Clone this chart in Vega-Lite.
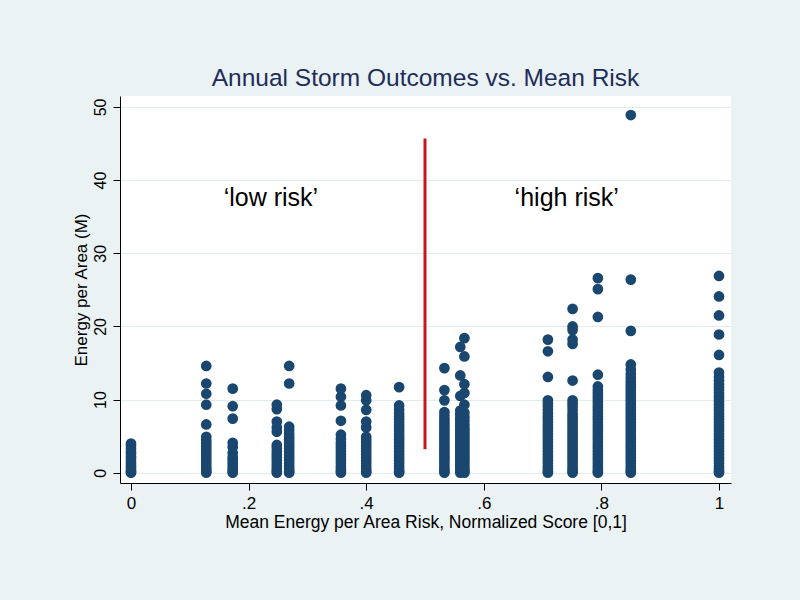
{
  "$schema": "https://vega.github.io/schema/vega-lite/v6.json",
  "width": 611,
  "height": 387,
  "autosize": "none",
  "padding": {"left": 120, "top": 96, "right": 69, "bottom": 117},
  "background": "#eaf2f3",
  "title": {"text": "Annual Storm Outcomes vs. Mean Risk", "fontSize": 24.5, "fontWeight": "normal", "color": "#1e2d5a", "anchor": "middle", "baseline": "alphabetic", "offset": -14, "font": "Liberation Sans"},
  "datasets": {
    "pts": [
      {"risk": 0, "energy": 0}, {"risk": 0, "energy": 0.1}, {"risk": 0, "energy": 0.3}, {"risk": 0, "energy": 0.6}, {"risk": 0, "energy": 0.9}, {"risk": 0, "energy": 1.2}, {"risk": 0, "energy": 1.5}, {"risk": 0, "energy": 1.9}, {"risk": 0, "energy": 2.2}, {"risk": 0, "energy": 2.6}, {"risk": 0, "energy": 2.9}, {"risk": 0, "energy": 3.3}, {"risk": 0, "energy": 3.7}, {"risk": 0, "energy": 4.0},
      {"risk": 0.128, "energy": 0}, {"risk": 0.128, "energy": 0.2}, {"risk": 0.128, "energy": 0.5}, {"risk": 0.128, "energy": 0.8}, {"risk": 0.128, "energy": 1.2}, {"risk": 0.128, "energy": 1.6}, {"risk": 0.128, "energy": 2.0}, {"risk": 0.128, "energy": 2.4}, {"risk": 0.128, "energy": 2.8}, {"risk": 0.128, "energy": 3.2}, {"risk": 0.128, "energy": 3.6}, {"risk": 0.128, "energy": 4.0}, {"risk": 0.128, "energy": 4.4}, {"risk": 0.128, "energy": 4.9}, {"risk": 0.128, "energy": 6.6}, {"risk": 0.128, "energy": 9.3}, {"risk": 0.128, "energy": 10.8}, {"risk": 0.128, "energy": 12.2}, {"risk": 0.128, "energy": 14.6},
      {"risk": 0.173, "energy": 0}, {"risk": 0.173, "energy": 0.2}, {"risk": 0.173, "energy": 0.5}, {"risk": 0.173, "energy": 0.9}, {"risk": 0.173, "energy": 1.3}, {"risk": 0.173, "energy": 1.7}, {"risk": 0.173, "energy": 2.1}, {"risk": 0.173, "energy": 2.7}, {"risk": 0.173, "energy": 3.5}, {"risk": 0.173, "energy": 4.1}, {"risk": 0.173, "energy": 7.4}, {"risk": 0.173, "energy": 9.1}, {"risk": 0.173, "energy": 11.5},
      {"risk": 0.248, "energy": 0}, {"risk": 0.248, "energy": 0.2}, {"risk": 0.248, "energy": 0.5}, {"risk": 0.248, "energy": 0.9}, {"risk": 0.248, "energy": 1.3}, {"risk": 0.248, "energy": 1.7}, {"risk": 0.248, "energy": 2.1}, {"risk": 0.248, "energy": 2.5}, {"risk": 0.248, "energy": 2.9}, {"risk": 0.248, "energy": 3.4}, {"risk": 0.248, "energy": 3.8}, {"risk": 0.248, "energy": 5.6}, {"risk": 0.248, "energy": 6.2}, {"risk": 0.248, "energy": 7.0}, {"risk": 0.248, "energy": 8.7}, {"risk": 0.248, "energy": 9.3},
      {"risk": 0.269, "energy": 0}, {"risk": 0.269, "energy": 0.2}, {"risk": 0.269, "energy": 0.5}, {"risk": 0.269, "energy": 0.9}, {"risk": 0.269, "energy": 1.3}, {"risk": 0.269, "energy": 1.7}, {"risk": 0.269, "energy": 2.1}, {"risk": 0.269, "energy": 2.5}, {"risk": 0.269, "energy": 2.9}, {"risk": 0.269, "energy": 3.3}, {"risk": 0.269, "energy": 3.7}, {"risk": 0.269, "energy": 4.1}, {"risk": 0.269, "energy": 4.5}, {"risk": 0.269, "energy": 4.9}, {"risk": 0.269, "energy": 5.3}, {"risk": 0.269, "energy": 5.8}, {"risk": 0.269, "energy": 6.3}, {"risk": 0.269, "energy": 12.2}, {"risk": 0.269, "energy": 14.6},
      {"risk": 0.357, "energy": 0}, {"risk": 0.357, "energy": 0.2}, {"risk": 0.357, "energy": 0.5}, {"risk": 0.357, "energy": 0.9}, {"risk": 0.357, "energy": 1.3}, {"risk": 0.357, "energy": 1.7}, {"risk": 0.357, "energy": 2.1}, {"risk": 0.357, "energy": 2.5}, {"risk": 0.357, "energy": 2.9}, {"risk": 0.357, "energy": 3.3}, {"risk": 0.357, "energy": 3.7}, {"risk": 0.357, "energy": 4.1}, {"risk": 0.357, "energy": 4.6}, {"risk": 0.357, "energy": 5.2}, {"risk": 0.357, "energy": 7.1}, {"risk": 0.357, "energy": 9.2}, {"risk": 0.357, "energy": 10.4}, {"risk": 0.357, "energy": 11.5},
      {"risk": 0.4, "energy": 0}, {"risk": 0.4, "energy": 0.2}, {"risk": 0.4, "energy": 0.5}, {"risk": 0.4, "energy": 0.9}, {"risk": 0.4, "energy": 1.3}, {"risk": 0.4, "energy": 1.7}, {"risk": 0.4, "energy": 2.1}, {"risk": 0.4, "energy": 2.5}, {"risk": 0.4, "energy": 2.9}, {"risk": 0.4, "energy": 3.3}, {"risk": 0.4, "energy": 3.7}, {"risk": 0.4, "energy": 4.1}, {"risk": 0.4, "energy": 4.5}, {"risk": 0.4, "energy": 4.9}, {"risk": 0.4, "energy": 6.2}, {"risk": 0.4, "energy": 7.0}, {"risk": 0.4, "energy": 8.6}, {"risk": 0.4, "energy": 9.9}, {"risk": 0.4, "energy": 10.6},
      {"risk": 0.456, "energy": 0}, {"risk": 0.456, "energy": 0.2}, {"risk": 0.456, "energy": 0.5}, {"risk": 0.456, "energy": 0.9}, {"risk": 0.456, "energy": 1.3}, {"risk": 0.456, "energy": 1.7}, {"risk": 0.456, "energy": 2.1}, {"risk": 0.456, "energy": 2.5}, {"risk": 0.456, "energy": 2.9}, {"risk": 0.456, "energy": 3.3}, {"risk": 0.456, "energy": 3.7}, {"risk": 0.456, "energy": 4.1}, {"risk": 0.456, "energy": 4.5}, {"risk": 0.456, "energy": 4.9}, {"risk": 0.456, "energy": 5.3}, {"risk": 0.456, "energy": 5.7}, {"risk": 0.456, "energy": 6.1}, {"risk": 0.456, "energy": 6.5}, {"risk": 0.456, "energy": 6.9}, {"risk": 0.456, "energy": 7.3}, {"risk": 0.456, "energy": 7.7}, {"risk": 0.456, "energy": 8.1}, {"risk": 0.456, "energy": 8.6}, {"risk": 0.456, "energy": 9.2}, {"risk": 0.456, "energy": 11.7},
      {"risk": 0.533, "energy": 0}, {"risk": 0.533, "energy": 0.2}, {"risk": 0.533, "energy": 0.5}, {"risk": 0.533, "energy": 0.9}, {"risk": 0.533, "energy": 1.3}, {"risk": 0.533, "energy": 1.7}, {"risk": 0.533, "energy": 2.1}, {"risk": 0.533, "energy": 2.5}, {"risk": 0.533, "energy": 2.9}, {"risk": 0.533, "energy": 3.3}, {"risk": 0.533, "energy": 3.7}, {"risk": 0.533, "energy": 4.1}, {"risk": 0.533, "energy": 4.5}, {"risk": 0.533, "energy": 4.9}, {"risk": 0.533, "energy": 5.3}, {"risk": 0.533, "energy": 5.7}, {"risk": 0.533, "energy": 6.1}, {"risk": 0.533, "energy": 6.5}, {"risk": 0.533, "energy": 6.9}, {"risk": 0.533, "energy": 7.3}, {"risk": 0.533, "energy": 7.8}, {"risk": 0.533, "energy": 8.3}, {"risk": 0.533, "energy": 9.9}, {"risk": 0.533, "energy": 11.3}, {"risk": 0.533, "energy": 14.3},
      {"risk": 0.56, "energy": 0}, {"risk": 0.56, "energy": 0.3}, {"risk": 0.56, "energy": 0.7}, {"risk": 0.56, "energy": 1.1}, {"risk": 0.56, "energy": 1.5}, {"risk": 0.56, "energy": 1.9}, {"risk": 0.56, "energy": 2.3}, {"risk": 0.56, "energy": 2.7}, {"risk": 0.56, "energy": 3.1}, {"risk": 0.56, "energy": 3.5}, {"risk": 0.56, "energy": 3.9}, {"risk": 0.56, "energy": 4.3}, {"risk": 0.56, "energy": 4.7}, {"risk": 0.56, "energy": 5.1}, {"risk": 0.56, "energy": 5.5}, {"risk": 0.56, "energy": 5.9}, {"risk": 0.56, "energy": 6.3}, {"risk": 0.56, "energy": 6.7}, {"risk": 0.56, "energy": 7.1}, {"risk": 0.56, "energy": 7.5}, {"risk": 0.56, "energy": 8.0}, {"risk": 0.56, "energy": 8.5}, {"risk": 0.56, "energy": 10.5}, {"risk": 0.56, "energy": 13.3}, {"risk": 0.56, "energy": 17.2},
      {"risk": 0.567, "energy": 0}, {"risk": 0.567, "energy": 0.2}, {"risk": 0.567, "energy": 0.5}, {"risk": 0.567, "energy": 0.9}, {"risk": 0.567, "energy": 1.3}, {"risk": 0.567, "energy": 1.7}, {"risk": 0.567, "energy": 2.1}, {"risk": 0.567, "energy": 2.5}, {"risk": 0.567, "energy": 2.9}, {"risk": 0.567, "energy": 3.3}, {"risk": 0.567, "energy": 3.7}, {"risk": 0.567, "energy": 4.1}, {"risk": 0.567, "energy": 4.5}, {"risk": 0.567, "energy": 4.9}, {"risk": 0.567, "energy": 5.3}, {"risk": 0.567, "energy": 5.7}, {"risk": 0.567, "energy": 6.1}, {"risk": 0.567, "energy": 6.6}, {"risk": 0.567, "energy": 7.1}, {"risk": 0.567, "energy": 7.6}, {"risk": 0.567, "energy": 8.2}, {"risk": 0.567, "energy": 9.3}, {"risk": 0.567, "energy": 10.9}, {"risk": 0.567, "energy": 12.1}, {"risk": 0.567, "energy": 15.9}, {"risk": 0.567, "energy": 18.4},
      {"risk": 0.709, "energy": 0}, {"risk": 0.709, "energy": 0.2}, {"risk": 0.709, "energy": 0.5}, {"risk": 0.709, "energy": 0.9}, {"risk": 0.709, "energy": 1.3}, {"risk": 0.709, "energy": 1.7}, {"risk": 0.709, "energy": 2.1}, {"risk": 0.709, "energy": 2.5}, {"risk": 0.709, "energy": 2.9}, {"risk": 0.709, "energy": 3.3}, {"risk": 0.709, "energy": 3.7}, {"risk": 0.709, "energy": 4.1}, {"risk": 0.709, "energy": 4.5}, {"risk": 0.709, "energy": 4.9}, {"risk": 0.709, "energy": 5.3}, {"risk": 0.709, "energy": 5.7}, {"risk": 0.709, "energy": 6.1}, {"risk": 0.709, "energy": 6.5}, {"risk": 0.709, "energy": 6.9}, {"risk": 0.709, "energy": 7.3}, {"risk": 0.709, "energy": 7.7}, {"risk": 0.709, "energy": 8.1}, {"risk": 0.709, "energy": 8.6}, {"risk": 0.709, "energy": 9.1}, {"risk": 0.709, "energy": 9.5}, {"risk": 0.709, "energy": 9.9}, {"risk": 0.709, "energy": 13.1}, {"risk": 0.709, "energy": 16.6}, {"risk": 0.709, "energy": 18.2},
      {"risk": 0.751, "energy": 0}, {"risk": 0.751, "energy": 0.2}, {"risk": 0.751, "energy": 0.5}, {"risk": 0.751, "energy": 0.9}, {"risk": 0.751, "energy": 1.3}, {"risk": 0.751, "energy": 1.7}, {"risk": 0.751, "energy": 2.1}, {"risk": 0.751, "energy": 2.5}, {"risk": 0.751, "energy": 2.9}, {"risk": 0.751, "energy": 3.3}, {"risk": 0.751, "energy": 3.7}, {"risk": 0.751, "energy": 4.1}, {"risk": 0.751, "energy": 4.5}, {"risk": 0.751, "energy": 4.9}, {"risk": 0.751, "energy": 5.3}, {"risk": 0.751, "energy": 5.7}, {"risk": 0.751, "energy": 6.1}, {"risk": 0.751, "energy": 6.5}, {"risk": 0.751, "energy": 6.9}, {"risk": 0.751, "energy": 7.3}, {"risk": 0.751, "energy": 7.7}, {"risk": 0.751, "energy": 8.1}, {"risk": 0.751, "energy": 8.6}, {"risk": 0.751, "energy": 9.1}, {"risk": 0.751, "energy": 9.5}, {"risk": 0.751, "energy": 9.9}, {"risk": 0.751, "energy": 12.6}, {"risk": 0.751, "energy": 17.6}, {"risk": 0.751, "energy": 18.2}, {"risk": 0.751, "energy": 19.5}, {"risk": 0.751, "energy": 20.0}, {"risk": 0.751, "energy": 22.4},
      {"risk": 0.794, "energy": 0}, {"risk": 0.794, "energy": 0.2}, {"risk": 0.794, "energy": 0.5}, {"risk": 0.794, "energy": 0.9}, {"risk": 0.794, "energy": 1.3}, {"risk": 0.794, "energy": 1.7}, {"risk": 0.794, "energy": 2.1}, {"risk": 0.794, "energy": 2.5}, {"risk": 0.794, "energy": 2.9}, {"risk": 0.794, "energy": 3.3}, {"risk": 0.794, "energy": 3.7}, {"risk": 0.794, "energy": 4.1}, {"risk": 0.794, "energy": 4.5}, {"risk": 0.794, "energy": 4.9}, {"risk": 0.794, "energy": 5.3}, {"risk": 0.794, "energy": 5.7}, {"risk": 0.794, "energy": 6.1}, {"risk": 0.794, "energy": 6.5}, {"risk": 0.794, "energy": 6.9}, {"risk": 0.794, "energy": 7.3}, {"risk": 0.794, "energy": 7.7}, {"risk": 0.794, "energy": 8.1}, {"risk": 0.794, "energy": 8.5}, {"risk": 0.794, "energy": 8.9}, {"risk": 0.794, "energy": 9.3}, {"risk": 0.794, "energy": 9.7}, {"risk": 0.794, "energy": 10.1}, {"risk": 0.794, "energy": 10.5}, {"risk": 0.794, "energy": 10.9}, {"risk": 0.794, "energy": 11.3}, {"risk": 0.794, "energy": 11.8}, {"risk": 0.794, "energy": 13.4}, {"risk": 0.794, "energy": 21.3}, {"risk": 0.794, "energy": 25.1}, {"risk": 0.794, "energy": 26.6},
      {"risk": 0.85, "energy": 0}, {"risk": 0.85, "energy": 0.2}, {"risk": 0.85, "energy": 0.5}, {"risk": 0.85, "energy": 0.9}, {"risk": 0.85, "energy": 1.3}, {"risk": 0.85, "energy": 1.7}, {"risk": 0.85, "energy": 2.1}, {"risk": 0.85, "energy": 2.5}, {"risk": 0.85, "energy": 2.9}, {"risk": 0.85, "energy": 3.3}, {"risk": 0.85, "energy": 3.7}, {"risk": 0.85, "energy": 4.1}, {"risk": 0.85, "energy": 4.5}, {"risk": 0.85, "energy": 4.9}, {"risk": 0.85, "energy": 5.3}, {"risk": 0.85, "energy": 5.7}, {"risk": 0.85, "energy": 6.1}, {"risk": 0.85, "energy": 6.5}, {"risk": 0.85, "energy": 6.9}, {"risk": 0.85, "energy": 7.3}, {"risk": 0.85, "energy": 7.7}, {"risk": 0.85, "energy": 8.1}, {"risk": 0.85, "energy": 8.5}, {"risk": 0.85, "energy": 8.9}, {"risk": 0.85, "energy": 9.3}, {"risk": 0.85, "energy": 9.7}, {"risk": 0.85, "energy": 10.1}, {"risk": 0.85, "energy": 10.5}, {"risk": 0.85, "energy": 10.9}, {"risk": 0.85, "energy": 11.3}, {"risk": 0.85, "energy": 11.7}, {"risk": 0.85, "energy": 12.1}, {"risk": 0.85, "energy": 12.5}, {"risk": 0.85, "energy": 13.0}, {"risk": 0.85, "energy": 13.5}, {"risk": 0.85, "energy": 14.1}, {"risk": 0.85, "energy": 14.8}, {"risk": 0.85, "energy": 19.4}, {"risk": 0.85, "energy": 26.4}, {"risk": 0.85, "energy": 48.9},
      {"risk": 1, "energy": 0}, {"risk": 1, "energy": 0.2}, {"risk": 1, "energy": 0.5}, {"risk": 1, "energy": 0.9}, {"risk": 1, "energy": 1.3}, {"risk": 1, "energy": 1.7}, {"risk": 1, "energy": 2.1}, {"risk": 1, "energy": 2.5}, {"risk": 1, "energy": 2.9}, {"risk": 1, "energy": 3.3}, {"risk": 1, "energy": 3.7}, {"risk": 1, "energy": 4.1}, {"risk": 1, "energy": 4.5}, {"risk": 1, "energy": 4.9}, {"risk": 1, "energy": 5.3}, {"risk": 1, "energy": 5.7}, {"risk": 1, "energy": 6.1}, {"risk": 1, "energy": 6.5}, {"risk": 1, "energy": 6.9}, {"risk": 1, "energy": 7.3}, {"risk": 1, "energy": 7.7}, {"risk": 1, "energy": 8.1}, {"risk": 1, "energy": 8.5}, {"risk": 1, "energy": 8.9}, {"risk": 1, "energy": 9.3}, {"risk": 1, "energy": 9.7}, {"risk": 1, "energy": 10.1}, {"risk": 1, "energy": 10.5}, {"risk": 1, "energy": 10.9}, {"risk": 1, "energy": 11.3}, {"risk": 1, "energy": 11.7}, {"risk": 1, "energy": 12.1}, {"risk": 1, "energy": 12.6}, {"risk": 1, "energy": 13.1}, {"risk": 1, "energy": 13.7}, {"risk": 1, "energy": 16.1}, {"risk": 1, "energy": 18.9}, {"risk": 1, "energy": 21.5}, {"risk": 1, "energy": 24.1}, {"risk": 1, "energy": 26.9}
    ],
    "divider": [{"risk": 0.5, "energy": 3.2, "energy2": 45.7}],
    "notes": [{"risk": 0.238, "energy": 36.4, "label": "‘low risk’"}, {"risk": 0.741, "energy": 36.4, "label": "‘high risk’"}]
  },
  "layer": [
    {
      "data": {"name": "pts"},
      "mark": {"type": "circle", "size": 115, "color": "#1a476f", "opacity": 1},
      "encoding": {
        "x": {"field": "risk", "type": "quantitative", "scale": {"domain": [-0.0187, 1.0204], "nice": false, "zero": false},
          "axis": {"title": "Mean Energy per Area Risk, Normalized Score [0,1]", "values": [0, 0.2, 0.4, 0.6, 0.8, 1], "labelExpr": "datum.value == 0 ? '0' : datum.value == 1 ? '1' : replace(format(datum.value, '.1f'), '0.', '.')", "grid": false, "tickSize": 7, "labelPadding": 5, "labelFontSize": 17, "titleFontSize": 17.5, "titlePadding": 2}},
        "y": {"field": "energy", "type": "quantitative", "scale": {"domain": [-1.4, 51.5], "nice": false, "zero": false},
          "axis": {"title": "Energy per Area (M)", "values": [0, 10, 20, 30, 40, 50], "grid": true, "gridColor": "#e3eced", "gridWidth": 1, "labelAngle": -90, "labelAlign": "center", "labelBaseline": "alphabetic", "labelPadding": 8, "tickSize": 7, "labelFontSize": 16, "titleFontSize": 17, "titlePadding": 2}}
      }
    },
    {
      "data": {"name": "divider"},
      "mark": {"type": "rule", "color": "#c8161d", "strokeWidth": 3},
      "encoding": {
        "x": {"field": "risk", "type": "quantitative"},
        "y": {"field": "energy", "type": "quantitative"},
        "y2": {"field": "energy2"}
      }
    },
    {
      "data": {"name": "notes"},
      "mark": {"type": "text", "fontSize": 25, "color": "black", "align": "center", "baseline": "alphabetic", "font": "Liberation Sans"},
      "encoding": {
        "x": {"field": "risk", "type": "quantitative"},
        "y": {"field": "energy", "type": "quantitative"},
        "text": {"field": "label"}
      }
    }
  ],
  "config": {
    "font": "Liberation Sans",
    "view": {"stroke": null, "fill": "white"},
    "axis": {"labelColor": "black", "titleColor": "black", "tickColor": "black", "domainColor": "black", "domainWidth": 1, "tickWidth": 1, "titleFontWeight": "normal", "labelFont": "Liberation Sans", "titleFont": "Liberation Sans", "labelFlush": false, "labelOverlap": false, "labelBound": false}
  }
}
